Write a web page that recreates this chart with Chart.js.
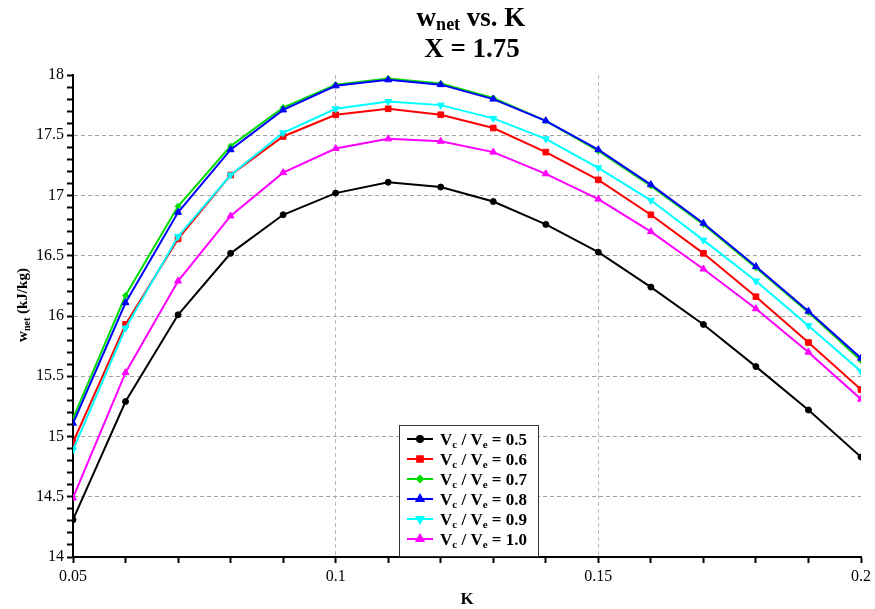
<!DOCTYPE html>
<html>
<head>
<meta charset="utf-8">
<script src="https://cdn.jsdelivr.net/npm/chart.js@4.4.0/dist/chart.umd.min.js"></script>
<style>
  html, body { margin: 0; padding: 0; background: #fff; }
  #wrap { width: 875px; height: 609px; }
</style>
</head>
<body>
<div id="wrap"><canvas id="chart" width="875" height="609"></canvas></div>
<script>
// ---------- Data ----------
const kValues = [0.05, 0.06, 0.07, 0.08, 0.09, 0.10, 0.11, 0.12, 0.13, 0.14, 0.15, 0.16, 0.17, 0.18, 0.19, 0.20];
const ratioLabels = ['0.5', '0.6', '0.7', '0.8', '0.9', '1.0'];

const wnet05 = [14.31, 15.29, 16.01, 16.52, 16.84, 17.02, 17.11, 17.07, 16.95, 16.76, 16.53, 16.24, 15.93, 15.58, 15.22, 14.83];
const wnet06 = [14.95, 15.93, 16.64, 17.17, 17.49, 17.67, 17.72, 17.67, 17.56, 17.36, 17.13, 16.84, 16.52, 16.16, 15.78, 15.39];
const wnet07 = [15.15, 16.17, 16.91, 17.41, 17.73, 17.92, 17.97, 17.93, 17.81, 17.62, 17.37, 17.08, 16.76, 16.40, 16.03, 15.63];
const wnet08 = [15.11, 16.11, 16.86, 17.38, 17.71, 17.91, 17.96, 17.92, 17.80, 17.62, 17.38, 17.09, 16.77, 16.41, 16.04, 15.65];
const wnet09 = [14.89, 15.90, 16.66, 17.17, 17.52, 17.72, 17.78, 17.75, 17.64, 17.47, 17.23, 16.96, 16.63, 16.29, 15.92, 15.54];
const wnet10 = [14.49, 15.53, 16.29, 16.83, 17.19, 17.39, 17.47, 17.45, 17.36, 17.18, 16.97, 16.70, 16.39, 16.06, 15.70, 15.31];

const yTickLabels = ['14', '14.5', '15', '15.5', '16', '16.5', '17', '17.5', '18'];
const xTickLabels = ['0.05', '0.1', '0.15', '0.2'];

const seriesValues = [wnet05, wnet06, wnet07, wnet08, wnet09, wnet10];
const seriesColors = ['#000000', '#ff0000', '#00dd00', '#0000ff', '#00ffff', '#ff00ff'];
const seriesMarkers = [
  { style: 'circle', rot: 0, r: 3 },
  { style: 'rect', rot: 0, r: 4 },
  { style: 'rectRot', rot: 0, r: 3 },
  { style: 'triangle', rot: 0, r: 4 },
  { style: 'triangle', rot: 180, r: 4 },
  { style: 'triangle', rot: 0, r: 4 }
];

const FONT = '"Liberation Serif", "Times New Roman", serif';

const datasets = seriesValues.map((vals, i) => ({
  label: 'Vc / Ve = ' + ratioLabels[i],
  data: kValues.map((k, j) => ({ x: k, y: vals[j] })),
  borderColor: seriesColors[i],
  backgroundColor: seriesColors[i],
  borderWidth: 2,
  pointStyle: seriesMarkers[i].style,
  pointRotation: seriesMarkers[i].rot,
  pointRadius: seriesMarkers[i].r,
  pointBorderWidth: 1,
  tension: 0,
  order: 6 - i
}));

// ---------- Rich text helper (subscripts) ----------
function richWidth(ctx, parts) {
  let w = 0;
  parts.forEach(p => {
    ctx.font = 'bold ' + p.size + 'px ' + FONT;
    w += ctx.measureText(p.t).width;
  });
  return w;
}

function drawRich(ctx, parts, x, y, align) {
  let cx = align === 'center' ? x - richWidth(ctx, parts) / 2 : x;
  ctx.textAlign = 'left';
  ctx.textBaseline = 'alphabetic';
  parts.forEach(p => {
    ctx.font = 'bold ' + p.size + 'px ' + FONT;
    ctx.fillText(p.t, cx, y + (p.sub ? p.sub : 0));
    cx += ctx.measureText(p.t).width;
  });
}

// ---------- Plugin: titles + legend ----------
const textPlugin = {
  id: 'textPlugin',
  afterDraw(chart) {
    const ctx = chart.ctx;
    const area = chart.chartArea;
    ctx.save();
    ctx.fillStyle = '#000';

    // judul
    drawRich(ctx, [
      { t: 'w', size: 27 },
      { t: 'net', size: 18, sub: 4 },
      { t: ' vs. K', size: 27 }
    ], 471, 26, 'center');
    drawRich(ctx, [{ t: 'X = 1.75', size: 27 }], 472, 57, 'center');

    // judul sumbu x
    drawRich(ctx, [{ t: 'K', size: 17 }], (area.left + area.right) / 2, 604, 'center');

    // judul sumbu y (diputar)
    ctx.save();
    ctx.translate(27, 305);
    ctx.rotate(-Math.PI / 2);
    drawRich(ctx, [
      { t: 'w', size: 15 },
      { t: 'net', size: 10, sub: 3 },
      { t: ' (kJ/kg)', size: 15 }
    ], 0, 0, 'center');
    ctx.restore();

    // legend
    const bx = 399, by = 425, bw = 139, bh = 131;
    ctx.fillStyle = '#fff';
    ctx.fillRect(bx, by, bw, bh);
    ctx.strokeStyle = '#333';
    ctx.lineWidth = 1;
    ctx.strokeRect(bx + 0.5, by + 0.5, bw, bh);

    chart.data.datasets.forEach((ds, i) => {
      const rowY = 439 + i * 20;
      ctx.strokeStyle = ds.borderColor;
      ctx.lineWidth = 2;
      ctx.beginPath();
      ctx.moveTo(407, rowY);
      ctx.lineTo(433, rowY);
      ctx.stroke();
      ctx.fillStyle = ds.backgroundColor;
      Chart.helpers.drawPoint(ctx, {
        pointStyle: ds.pointStyle,
        rotation: ds.pointRotation,
        radius: ds.pointRadius,
        borderWidth: 1
      }, 420, rowY);
      ctx.fillStyle = '#000';
      drawRich(ctx, [
        { t: 'V', size: 17 },
        { t: 'c', size: 11, sub: 3 },
        { t: ' / V', size: 17 },
        { t: 'e', size: 11, sub: 3 },
        { t: ' = ' + ratioLabels[i], size: 17 }
      ], 440, rowY + 6, 'left');
    });
    ctx.restore();
  }
};

// ---------- Chart ----------
const isMajorY = v => Math.round(v * 10) % 5 === 0;
const isMajorX = v => Math.round(v * 100) % 5 === 0;

new Chart(document.getElementById('chart'), {
  type: 'line',
  data: { datasets },
  options: {
    responsive: false,
    animation: false,
    layout: { padding: { top: 75, right: 13, left: 0, bottom: 0 } },
    plugins: {
      legend: { display: false },
      title: { display: false },
      tooltip: { enabled: false }
    },
    scales: {
      x: {
        type: 'linear',
        min: 0.05,
        max: 0.2,
        afterFit: s => { s.height = 52; },
        ticks: {
          stepSize: 0.01,
          autoSkip: false,
          maxRotation: 0,
          padding: 4,
          color: '#000',
          font: { family: FONT, size: 16 },
          callback: v => {
            if (!isMajorX(v)) return '';
            const idx = Math.round((v - 0.05) / 0.05);
            return xTickLabels[idx] ?? '';
          }
        },
        grid: {
          color: c => {
            const v = c.tick ? c.tick.value : 0;
            if (!isMajorX(v) || Math.abs(v - 0.05) < 1e-6 || Math.abs(v - 0.2) < 1e-6) return 'rgba(0,0,0,0)';
            return '#b8b8b8';
          },
          lineWidth: 1,
          tickColor: '#000',
          tickWidth: 2,
          tickLength: 6
        },
        border: { display: true, color: '#000', width: 2, dash: [4, 3] }
      },
      y: {
        min: 14,
        max: 18,
        afterFit: s => { s.width = 73; },
        ticks: {
          stepSize: 0.1,
          autoSkip: false,
          padding: 3,
          color: '#000',
          font: { family: FONT, size: 16 },
          callback: v => {
            if (!isMajorY(v)) return '';
            const idx = Math.round((v - 14) / 0.5);
            return yTickLabels[idx] ?? '';
          }
        },
        grid: {
          color: c => {
            const v = c.tick ? c.tick.value : 0;
            if (!isMajorY(v) || Math.abs(v - 18) < 1e-6 || Math.abs(v - 14) < 1e-6) return 'rgba(0,0,0,0)';
            return '#a0a0a0';
          },
          lineWidth: 1,
          tickColor: '#000',
          tickWidth: 2,
          tickLength: 6
        },
        border: { display: true, color: '#000', width: 2, dash: [4, 3] }
      }
    }
  },
  plugins: [textPlugin]
});
</script>
</body>
</html>
